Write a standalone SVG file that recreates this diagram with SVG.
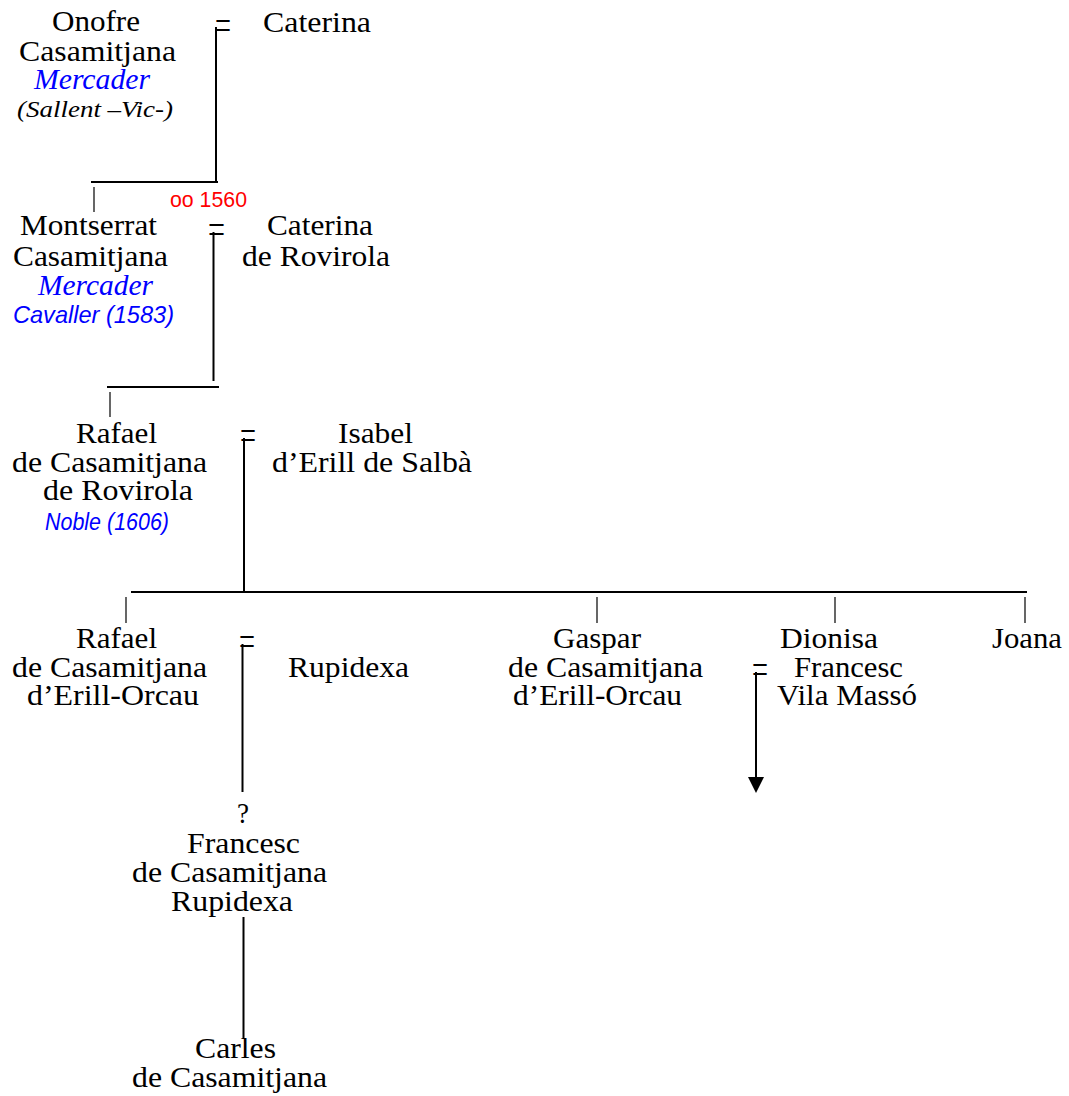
<svg xmlns="http://www.w3.org/2000/svg" width="1069" height="1096" viewBox="0 0 1069 1096">
<style>
text{font-family:'Liberation Serif','Times New Roman',Times,Tinos,'Nimbus Roman',serif;font-size:30px;fill:#000}
.bi{fill:#0000ff;font-style:italic}
.sm{font-size:23px;font-style:italic}
.ns{font-family:'Liberation Sans Narrow','Arial Narrow','Liberation Sans',Arial,sans-serif;font-style:italic;fill:#0000ff;font-size:24px}
.red{font-family:'Liberation Sans Narrow','Arial Narrow','Liberation Sans',Arial,sans-serif;fill:#ff0000;font-size:22px}
.eq{font-size:42px}
.ln{stroke:#000;stroke-width:2;fill:none}
.tk{stroke:#000;stroke-width:1.2;fill:none}
.hl{stroke:#000;stroke-width:1.8;fill:none}
</style>
<g id="connectors">
<line class="ln" x1="216" y1="27" x2="216" y2="182"/>
<line class="hl" x1="91" y1="182" x2="218" y2="182"/>
<line class="tk" x1="94" y1="187" x2="94" y2="212"/>
<line class="ln" x1="213.5" y1="232" x2="213.5" y2="381"/>
<line class="hl" x1="107" y1="387" x2="219" y2="387"/>
<line class="tk" x1="110" y1="392" x2="110" y2="417"/>
<line class="ln" x1="244" y1="438" x2="244" y2="592"/>
<line class="hl" x1="131" y1="592" x2="1027" y2="592"/>
<line class="tk" x1="126" y1="597" x2="126" y2="623"/>
<line class="tk" x1="597" y1="597" x2="597" y2="623"/>
<line class="tk" x1="835" y1="597" x2="835" y2="623"/>
<line class="tk" x1="1025" y1="597" x2="1025" y2="623"/>
<line class="ln" x1="242.5" y1="644" x2="242.5" y2="792"/>
<line class="ln" x1="756" y1="672" x2="756" y2="777" stroke-width="2.5"/>
<path d="M748,777 L764,777 L756,793 Z" fill="#000"/>
<line class="ln" x1="243.5" y1="917" x2="243.5" y2="1038" stroke-width="3"/>
</g>
<g id="onofre">
<text x="52" y="31" textLength="88" lengthAdjust="spacingAndGlyphs">Onofre</text>
<text x="19" y="61" textLength="157" lengthAdjust="spacingAndGlyphs">Casamitjana</text>
<text class="bi" x="34" y="89" textLength="116" lengthAdjust="spacingAndGlyphs">Mercader</text>
<text class="sm" x="17" y="117" textLength="156" lengthAdjust="spacingAndGlyphs">(Sallent –Vic-)</text>
</g>
<g id="eq1"><text class="eq" x="215" y="38.5" textLength="16" lengthAdjust="spacingAndGlyphs">=</text></g>
<g id="caterina1"><text x="263" y="32" textLength="108" lengthAdjust="spacingAndGlyphs">Caterina</text></g>
<g id="marriage1560"><text class="red" x="170" y="207" textLength="77" lengthAdjust="spacingAndGlyphs">oo 1560</text></g>
<g id="montserrat">
<text x="20" y="235" textLength="137" lengthAdjust="spacingAndGlyphs">Montserrat</text>
<text x="13" y="266" textLength="155" lengthAdjust="spacingAndGlyphs">Casamitjana</text>
<text class="bi" x="38" y="295" textLength="115" lengthAdjust="spacingAndGlyphs">Mercader</text>
<text class="ns" x="13" y="323" textLength="161" lengthAdjust="spacingAndGlyphs">Cavaller (1583)</text>
</g>
<g id="eq2"><text class="eq" x="208" y="243" textLength="17" lengthAdjust="spacingAndGlyphs">=</text></g>
<g id="caterina2">
<text x="267" y="235" textLength="106" lengthAdjust="spacingAndGlyphs">Caterina</text>
<text x="242" y="266" textLength="148" lengthAdjust="spacingAndGlyphs">de Rovirola</text>
</g>
<g id="rafael1">
<text x="76" y="443" textLength="81" lengthAdjust="spacingAndGlyphs">Rafael</text>
<text x="12" y="472" textLength="195" lengthAdjust="spacingAndGlyphs">de Casamitjana</text>
<text x="43" y="500" textLength="150" lengthAdjust="spacingAndGlyphs">de Rovirola</text>
<text class="ns" x="45" y="530" font-size="23" textLength="124" lengthAdjust="spacingAndGlyphs">Noble (1606)</text>
</g>
<g id="eq3"><text class="eq" x="240" y="449" textLength="16" lengthAdjust="spacingAndGlyphs">=</text></g>
<g id="isabel">
<text x="338" y="443" textLength="75" lengthAdjust="spacingAndGlyphs">Isabel</text>
<text x="272" y="472" textLength="200" lengthAdjust="spacingAndGlyphs">d’Erill de Salbà</text>
</g>
<g id="rafael2">
<text x="76" y="648" textLength="81" lengthAdjust="spacingAndGlyphs">Rafael</text>
<text x="12" y="677" textLength="195" lengthAdjust="spacingAndGlyphs">de Casamitjana</text>
<text x="27" y="705" textLength="172" lengthAdjust="spacingAndGlyphs">d’Erill-Orcau</text>
</g>
<g id="eq4"><text class="eq" x="239" y="655" textLength="16" lengthAdjust="spacingAndGlyphs">=</text></g>
<g id="rupidexa"><text x="288" y="677" textLength="121" lengthAdjust="spacingAndGlyphs">Rupidexa</text></g>
<g id="gaspar">
<text x="553" y="648" textLength="88" lengthAdjust="spacingAndGlyphs">Gaspar</text>
<text x="508" y="677" textLength="195" lengthAdjust="spacingAndGlyphs">de Casamitjana</text>
<text x="513" y="705" textLength="169" lengthAdjust="spacingAndGlyphs">d’Erill-Orcau</text>
</g>
<g id="dionisa"><text x="780" y="648" textLength="98" lengthAdjust="spacingAndGlyphs">Dionisa</text></g>
<g id="eq5"><text class="eq" x="752" y="683" textLength="16" lengthAdjust="spacingAndGlyphs">=</text></g>
<g id="francesc-vila">
<text x="794" y="677" textLength="109" lengthAdjust="spacingAndGlyphs">Francesc</text>
<text x="777" y="705" textLength="140" lengthAdjust="spacingAndGlyphs">Vila Massó</text>
</g>
<g id="joana"><text x="992" y="648" textLength="70" lengthAdjust="spacingAndGlyphs">Joana</text></g>
<g id="francesc">
<text x="237" y="823" textLength="12" lengthAdjust="spacingAndGlyphs">?</text>
<text x="187" y="853" textLength="113" lengthAdjust="spacingAndGlyphs">Francesc</text>
<text x="132" y="882" textLength="195" lengthAdjust="spacingAndGlyphs">de Casamitjana</text>
<text x="171" y="911" textLength="122" lengthAdjust="spacingAndGlyphs">Rupidexa</text>
</g>
<g id="carles">
<text x="195" y="1058" textLength="81" lengthAdjust="spacingAndGlyphs">Carles</text>
<text x="132" y="1087" textLength="195" lengthAdjust="spacingAndGlyphs">de Casamitjana</text>
</g>
</svg>
